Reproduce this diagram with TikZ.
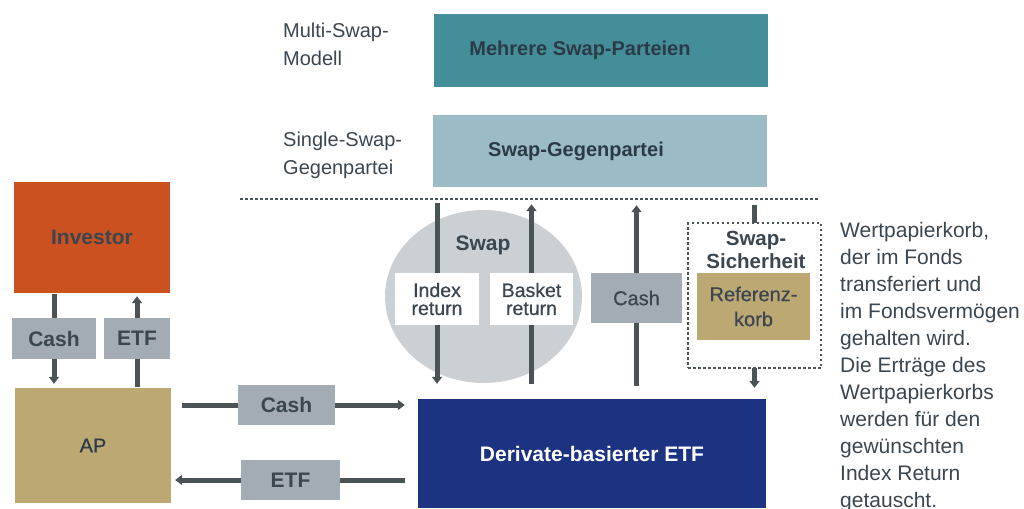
\documentclass[tikz,border=0pt]{standalone}
\usepackage{fontspec}
\setmainfont{Liberation Sans}
\newfontfamily\medfont[FakeBold=0.6]{Liberation Sans}
\usetikzlibrary{arrows.meta,shapes.geometric,calc}

\definecolor{cTeal}{HTML}{438E99}
\definecolor{cTealLight}{HTML}{9BBCC6}
\definecolor{cOrange}{HTML}{CB5220}
\definecolor{cGrey}{HTML}{A3ACB4}
\definecolor{cKhaki}{HTML}{BBA873}
\definecolor{cNavy}{HTML}{1B3380}
\definecolor{cEll}{HTML}{CBD0D4}
\definecolor{cArrow}{HTML}{4A5456}
\definecolor{cText}{HTML}{3A4650}
\definecolor{cDark}{HTML}{2C3A47}

\pgfdeclarelayer{back}
\pgfdeclarelayer{mid}
\pgfsetlayers{back,mid,main}

\begin{document}
\begin{tikzpicture}[x=1pt,y=-1pt,
  box/.style={rectangle, inner sep=0pt, align=center, text=cText,
    font=\bfseries\fontsize{21}{24}\selectfont},
  plainbox/.style={box, font=\medfont\fontsize{20}{24}\selectfont},
  sidetext/.style={inner sep=0pt, anchor=north west, align=left, text=cText,
    font=\fontsize{20}{28}\selectfont},
  arr/.style={draw=cArrow, line width=5pt, -{Triangle[width=10pt,length=7pt]}},
  dotline/.style={draw=cArrow, line width=2.5pt, dash pattern=on 2.5pt off 2.5pt}
]
\useasboundingbox (0,0) rectangle (1024,508);

% swap ellipse behind everything
\begin{pgfonlayer}{back}
  \node[ellipse, fill=cEll, inner sep=0pt, minimum width=197pt, minimum height=173pt]
    (swapell) at (483.5,296.5) {};
\end{pgfonlayer}

% counterparties
\node[box, fill=cTeal, minimum width=334pt, minimum height=73pt]
  (multi) at (601,50.5) {};
\node[box, text=cDark, font=\bfseries\fontsize{20}{24}\selectfont]
  (multitxt) at (580,50.5) {Mehrere Swap-Parteien};
\node[box, fill=cTealLight, minimum width=334pt, minimum height=72pt]
  (single) at (600,151) {};
\node[box, text=cDark, font=\bfseries\fontsize{20}{24}\selectfont]
  (singletxt) at (576,151) {Swap-Gegenpartei};
\node[sidetext] (multilbl) at (283,23) {Multi-Swap-\\Modell};
\node[sidetext] (singlelbl) at (283,132) {Single-Swap-\\Gegenpartei};

% separator
\coordinate (sepL) at (240,199);
\coordinate (sepR) at (818,199);
\draw[dotline] (sepL) -- (sepR);

% investor side
\node[box, fill=cOrange, minimum width=156pt, minimum height=111pt]
  (investor) at (92,237.5) {Investor};
\node[box, fill=cGrey, minimum width=84pt, minimum height=41pt]
  (cashL) at (54,338.5) {Cash};
\node[box, fill=cGrey, minimum width=66pt, minimum height=41pt]
  (etfL) at (137,338.5) {ETF};
\node[plainbox, fill=cKhaki, text=cDark, minimum width=156pt, minimum height=115pt]
  (ap) at (93,445.5) {AP};

% AP <-> ETF flows
\node[box, fill=cGrey, minimum width=97pt, minimum height=40pt]
  (cashM) at (286.5,405) {Cash};
\node[box, fill=cGrey, minimum width=99pt, minimum height=40pt]
  (etfM) at (290.5,480) {ETF};
\node[box, fill=cNavy, text=white, minimum width=348pt, minimum height=109pt]
  (etf) at (592,453.5) {Derivate-basierter ETF};

% swap contents
\node[box] (swaplbl) at (483,245) {Swap};
\node[plainbox, fill=white, minimum width=84pt, minimum height=52pt,
  font=\medfont\fontsize{19.5}{18}\selectfont] (idx) at (437,299) {Index\\return};
\node[plainbox, fill=white, minimum width=83pt, minimum height=52pt,
  font=\medfont\fontsize{19.5}{18}\selectfont] (bsk) at (531.5,299) {Basket\\return};
\node[plainbox, fill=cGrey, minimum width=91pt, minimum height=50pt]
  (cashR) at (636.5,298) {Cash};

% collateral
\node[rectangle, fill=white, dotline, minimum width=133pt, minimum height=145pt]
  (sich) at (754.5,295.5) {};
\node[box, font=\bfseries\fontsize{20.5}{23}\selectfont]
  (sichlbl) at (756,250) {Swap-\\Sicherheit};
\node[plainbox, fill=cKhaki, minimum width=113pt, minimum height=67pt,
  font=\medfont\fontsize{20}{25}\selectfont] (ref) at (753.5,306.5) {Referenz-\\korb};

% explanation
\node[sidetext, font=\fontsize{21}{27}\selectfont] (note) at (840,222)
  {Wertpapierkorb,\\der im Fonds\\transferiert und\\im Fondsverm\"ogen\\gehalten wird.\\Die Ertr\"age des\\Wertpapierkorbs\\werden f\"ur den\\gew\"unschten\\Index Return\\getauscht.};

% flows
\begin{pgfonlayer}{mid}
  \draw[arr, shorten <=1pt, shorten >=4pt] (investor.south -| cashL) -- (ap.north -| cashL);
  \draw[arr, shorten <=1pt, shorten >=3pt] (ap.north -| etfL) -- (investor.south -| etfL);
  \draw[arr, shorten <=11pt, shorten >=13pt] (ap.east |- cashM) -- (etf.west |- cashM);
  \draw[arr, shorten <=13pt, shorten >=4pt] (etf.west |- etfM) -- (ap.east |- etfM);
  \draw[arr, shorten <=16pt, shorten >=15pt] (single.south -| idx) -- (etf.north -| idx);
  \draw[arr, shorten <=15pt, shorten >=17pt] (etf.north -| bsk) -- (single.south -| bsk);
  \draw[arr, shorten <=13pt, shorten >=18pt] (etf.north -| cashR) -- (single.south -| cashR);
  \draw[arr, shorten <=18pt, shorten >=11pt] (single.south -| sich) -- (etf.north -| sich);
\end{pgfonlayer}
\end{tikzpicture}
\end{document}
